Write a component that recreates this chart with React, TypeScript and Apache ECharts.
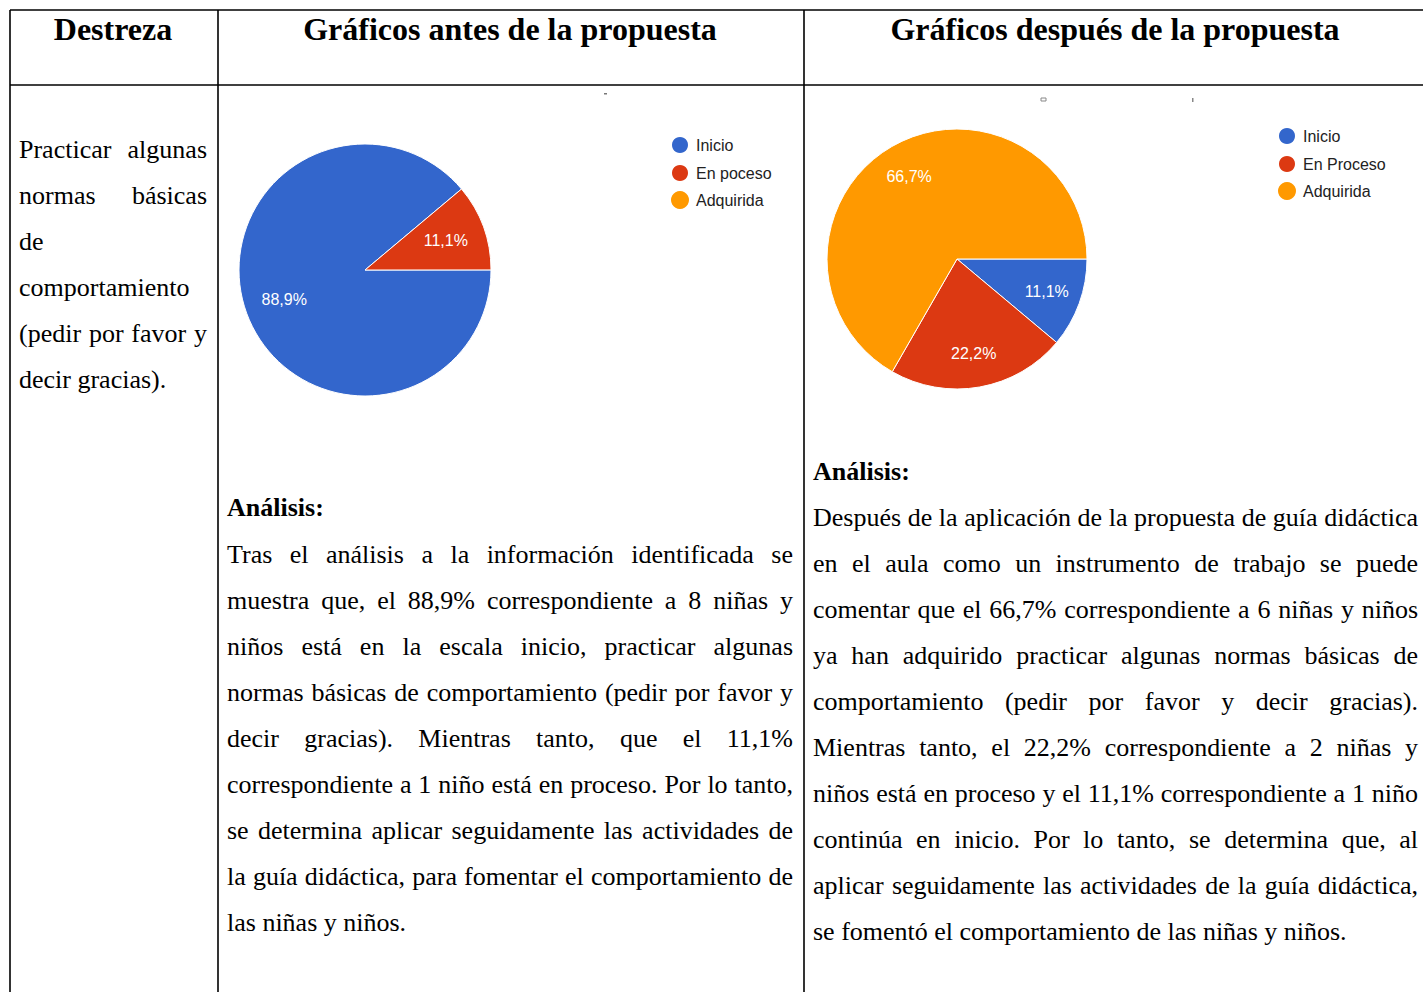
import React, { useEffect, useRef } from 'react';
import * as echarts from 'echarts';

// ---------- data ----------
const headers = ['Destreza', 'Gráficos antes de la propuesta', 'Gráficos después de la propuesta'];
const namesBefore = ['Inicio', 'En poceso', 'Adquirida'];
const valuesBefore = [88.9, 11.1, 0];
const namesAfter = ['Inicio', 'En Proceso', 'Adquirida'];
const valuesAfter = [11.1, 22.2, 66.7];
const sliceColors = ['#3366cc', '#dc3912', '#ff9900'];

const skillLines = [
  'Practicar algunas',
  'normas básicas',
  'de',
  'comportamiento',
  '(pedir por favor y',
  'decir gracias).',
];
const analysisTitle = 'Análisis:';
const beforeLines = [
  'Tras el análisis a la información identificada se',
  'muestra que, el 88,9% correspondiente a 8 niñas y',
  'niños está en la escala inicio, practicar algunas',
  'normas básicas de comportamiento (pedir por favor y',
  'decir gracias). Mientras tanto, que el 11,1%',
  'correspondiente a 1 niño está en proceso. Por lo tanto,',
  'se determina aplicar seguidamente las actividades de',
  'la guía didáctica, para fomentar el comportamiento de',
  'las niñas y niños.',
];
const afterLines = [
  'Después de la aplicación de la propuesta de guía didáctica',
  'en el aula como un instrumento de trabajo se puede',
  'comentar que el 66,7% correspondiente a 6 niñas y niños',
  'ya han adquirido practicar algunas normas básicas de',
  'comportamiento (pedir por favor y decir gracias).',
  'Mientras tanto, el 22,2% correspondiente a 2 niñas y',
  'niños está en proceso y el 11,1% correspondiente a 1 niño',
  'continúa en inicio. Por lo tanto, se determina que, al',
  'aplicar seguidamente las actividades de la guía didáctica,',
  'se fomentó el comportamiento de las niñas y niños.',
];

// ---------- layout ----------
const W = 1423;
const H = 992;
const SERIF = "'Liberation Serif', 'Times New Roman', serif";
const SANS = "'Liberation Sans', Arial, sans-serif";
const BODY_SIZE = 26;
const LINE_H = 46;

let measureCtx: CanvasRenderingContext2D | null = null;
function measure(text: string, font: string) {
  if (!measureCtx) measureCtx = document.createElement('canvas').getContext('2d');
  measureCtx!.font = font;
  return measureCtx!.measureText(text).width;
}

function textEl(text: string, x: number, y: number, opts: any = {}) {
  return {
    type: 'text',
    x,
    y,
    silent: true,
    style: {
      text,
      fill: '#000',
      fontFamily: SERIF,
      fontSize: BODY_SIZE,
      align: 'left',
      verticalAlign: 'middle',
      ...opts,
    },
  };
}

function paragraph(lines: string[], x0: number, x1: number, y0: number, justifyAll: boolean[] | null) {
  const els: any[] = [];
  const font = `${BODY_SIZE}px ${SERIF}`;
  lines.forEach((line, i) => {
    const y = y0 + i * LINE_H;
    const words = line.split(' ');
    const justify = justifyAll ? justifyAll[i] : i < lines.length - 1;
    if (!justify || words.length < 2) {
      els.push(textEl(line, x0, y));
      return;
    }
    const widths = words.map((w) => measure(w, font));
    const total = widths.reduce((a, b) => a + b, 0);
    const gap = Math.max(2, (x1 - x0 - total) / (words.length - 1));
    let x = x0;
    words.forEach((w, k) => {
      els.push(textEl(w, x, y));
      x += widths[k] + gap;
    });
  });
  return els;
}

const fmtPct = (v: number) => v.toFixed(1).replace('.', ',') + '%';

function pieSeries(names: string[], values: number[], center: number[], r: number, r0Label: number, startAngle: number, clockwise: boolean) {
  return [
    {
      type: 'pie',
      center,
      radius: r,
      startAngle,
      clockwise,
      silent: true,
      label: { show: false },
      labelLine: { show: false },
      data: names.map((n, i) => ({
        name: n,
        value: values[i],
        itemStyle: { color: sliceColors[i], borderColor: '#fff', borderWidth: values[i] ? 1 : 0 },
      })),
    },
    {
      type: 'pie',
      center,
      radius: [r0Label, r],
      startAngle,
      clockwise,
      silent: true,
      labelLine: { show: false },
      label: {
        show: true,
        position: 'inside',
        color: '#fff',
        fontSize: 16,
        fontFamily: SANS,
        formatter: (p: any) => (p.value ? fmtPct(p.value) : ''),
      },
      itemStyle: { color: 'rgba(0,0,0,0)', borderWidth: 0 },
      data: names.map((n, i) => ({ name: n, value: values[i], itemStyle: { color: 'rgba(0,0,0,0)' } })),
    },
  ];
}

function legendCfg(names: string[], left: number, top: number) {
  return {
    data: names,
    orient: 'vertical',
    left,
    top,
    icon: 'circle',
    itemWidth: 18,
    itemHeight: 18,
    itemGap: 8,
    selectedMode: false,
    textStyle: { fontSize: 16, color: '#222', fontFamily: SANS, lineHeight: 18, padding: [0, 0, 0, 2] },
  };
}

export default function App() {
  const ref = useRef<HTMLDivElement>(null);
  useEffect(() => {
    if (!ref.current) return;
    const chart = echarts.init(ref.current, null, { renderer: 'svg' });

    const lineStyle = { stroke: '#000', lineWidth: 1.6 };
    const lines = [
      [10, 10, W, 10],
      [10, 85, W, 85],
      [10, 10, 10, H],
      [218, 10, 218, H],
      [804, 10, 804, H],
    ].map(([x1, y1, x2, y2]) => ({ type: 'line', silent: true, shape: { x1, y1, x2, y2 }, style: lineStyle }));

    const headerEls = [
      [113, headers[0]],
      [510, headers[1]],
      [1115, headers[2]],
    ].map(([x, t]) => textEl(t as string, x as number, 29, { align: 'center', fontWeight: 'bold', fontSize: 32 }));

    const skill = paragraph(skillLines, 19, 207, 149, [true, true, false, false, true, false]);
    const before = [
      textEl(analysisTitle, 227, 507, { fontWeight: 'bold' }),
      ...paragraph(beforeLines, 227, 793, 554, null),
    ];
    const after = [
      textEl(analysisTitle, 813, 471, { fontWeight: 'bold' }),
      ...paragraph(afterLines, 813, 1418, 517, null),
    ];

    const marks = [
      { type: 'rect', silent: true, shape: { x: 604, y: 93, width: 3, height: 1.5 }, style: { fill: '#777' } },
      { type: 'rect', silent: true, shape: { x: 1041, y: 98, width: 5, height: 3 }, style: { fill: 'none', stroke: '#888', lineWidth: 1 } },
      { type: 'rect', silent: true, shape: { x: 1192, y: 98, width: 1.5, height: 4 }, style: { fill: '#888' } },
    ];

    chart.setOption({
      animation: false,
      backgroundColor: '#fff',
      legend: [legendCfg(namesBefore, 665, 130), legendCfg(namesAfter, 1272, 121)],
      series: [
        ...pieSeries(namesBefore, valuesBefore, [365, 270], 126, 40, 40, false),
        ...pieSeries(namesAfter, valuesAfter, [957, 259], 130, 55, 0, true),
      ],
      graphic: [...lines, ...headerEls, ...skill, ...before, ...after, ...marks],
    });
    return () => chart.dispose();
  }, []);
  return <div ref={ref} style={{ position: 'fixed', left: 0, top: 0, width: W, height: H }} />;
}
